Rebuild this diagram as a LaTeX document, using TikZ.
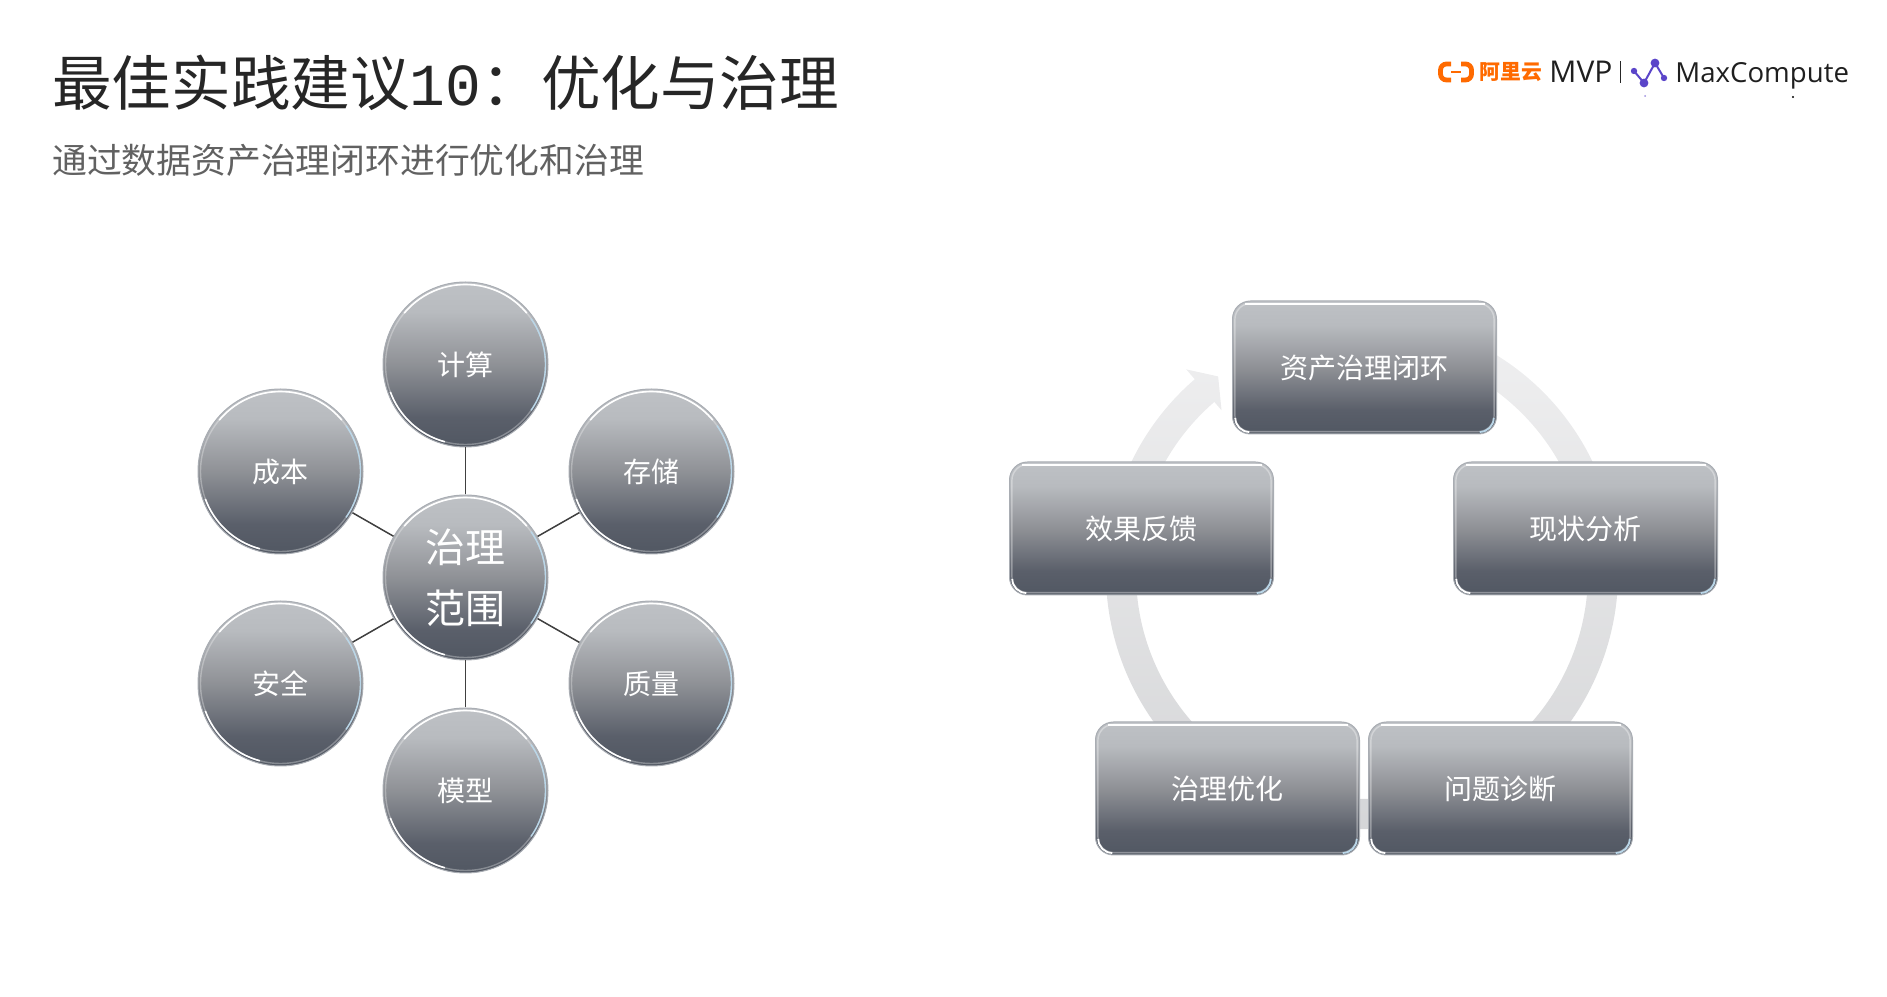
\documentclass[tikz,border=0pt]{standalone}
\usepackage{fontspec}
\setmainfont{Noto Sans CJK SC}
\newfontfamily\logofont{Open Sans}
\newfontfamily\digitfont{Liberation Mono}
\usetikzlibrary{arrows.meta}
\definecolor{rimgray}{HTML}{A9ADB3}
\definecolor{rimblue}{HTML}{B9D6E8}
\definecolor{ringtop}{HTML}{EFEFF0}
\definecolor{ringbot}{HTML}{D3D4D6}
\definecolor{aliorange}{HTML}{FF6A00}
\definecolor{mcpurple}{HTML}{5B45C9}
\definecolor{shadelow}{HTML}{535964}
\definecolor{shadelowb}{HTML}{5A5F6A}
\definecolor{shademid}{HTML}{8F9196}
\definecolor{shadehighb}{HTML}{B8BBBF}
\definecolor{shadehigh}{HTML}{BEC1C5}
\pgfdeclareverticalshading{bevelshade}{100bp}{
  color(0bp)=(shadelow); color(27bp)=(shadelow);
  color(34bp)=(shadelowb); color(50bp)=(shademid);
  color(66bp)=(shadehighb); color(75bp)=(shadehigh); color(100bp)=(shadehigh)}
\tikzset{
  discnode/.style = {circle, minimum size=82.5pt, inner sep=0pt, draw=rimgray, line width=.5pt,
                     shading=bevelshade, text=white, font=\fontsize{14}{16}\selectfont,
                     path picture={
                       \draw[white,opacity=.3,line width=.7pt] (path picture bounding box.center) circle (40pt);
                       \draw[white,line width=.8pt] (path picture bounding box.center)
                         ++(140:40pt) arc[start angle=140,end angle=40,radius=40pt];
                       \draw[white,line width=.8pt] (path picture bounding box.center)
                         ++(255:40pt) arc[start angle=255,end angle=200,radius=40pt];
                       \draw[rimblue,line width=.7pt] (path picture bounding box.center)
                         ++(35:40pt) arc[start angle=35,end angle=-35,radius=40pt];}},
  barnode/.style  = {rectangle, rounded corners=9pt, minimum width=132pt, minimum height=66.5pt,
                     inner sep=0pt, draw=rimgray, line width=.5pt,
                     shading=bevelshade, text=white, font=\fontsize{14}{16}\selectfont,
                     path picture={
                       \draw[white,opacity=.35,line width=.7pt,rounded corners=8pt]
                         ([xshift=1.2pt,yshift=-1.2pt]path picture bounding box.north west) rectangle
                         ([xshift=-1.2pt,yshift=1.2pt]path picture bounding box.south east);
                       \draw[white,line width=1pt,sharp corners]
                         ([xshift=6pt,yshift=-1.3pt]path picture bounding box.north west) --
                         ([xshift=-6pt,yshift=-1.3pt]path picture bounding box.north east);
                       \draw[white,line width=.9pt] ([xshift=1.4pt,yshift=8pt]path picture bounding box.south west)
                         arc[start angle=180,end angle=270,radius=7pt];
                       \draw[rimblue,line width=.9pt] ([xshift=-1.4pt,yshift=8pt]path picture bounding box.south east)
                         arc[start angle=0,end angle=-90,radius=7pt];}},
  spoke/.style    = {draw=black!75, line width=.75pt},
  logotext/.style = {anchor=base west, inner sep=0pt, font=\logofont\fontsize{13.8}{16}\selectfont, text=black!88}
}
\begin{document}
\begin{tikzpicture}[x=0.5pt,y=0.5pt]
  \useasboundingbox (0,0) rectangle (1887,997);
  % title block
  \node[anchor=west,inner sep=0pt,font=\fontsize{29.8}{32}\selectfont,text=black!85] (title) at (52,914.5)
    {最佳实践建议{\digitfont 10}^^^^ff1a优化与治理};
  \node[anchor=west,inner sep=0pt,font=\fontsize{17.4}{20}\selectfont,text=black!62] (subtitle) at (52,837)
    {通过数据资产治理闭环进行优化和治理};
  % logo strip
  \draw[aliorange,line width=2.4pt,rounded corners=3pt] (1451,933) -- (1440.5,933) -- (1440.5,917) -- (1451,917);
  \draw[aliorange,line width=2.4pt,rounded corners=3pt] (1461,933) -- (1471.5,933) -- (1471.5,917) -- (1461,917);
  \draw[aliorange,line width=.9pt] (1451,925) -- (1461,925);
  \node[anchor=west,inner sep=0pt,font=\fontsize{10.4}{12}\selectfont\bfseries,text=aliorange] (aliname) at (1479,925) {阿里云};
  \node[logotext,font=\logofont\fontsize{15}{16}\selectfont] (mvp) at (1549,914) {MVP};
  \draw[black!85,line width=.5pt] (1620,914) -- (1620,936);
  \coordinate (p1) at (1634,926);
  \coordinate (p2) at (1644,914);
  \coordinate (p3) at (1655,934);
  \coordinate (p4) at (1664,919);
  \draw[mcpurple,line width=1pt] (p1) -- (p2) -- (p3) -- (p4);
  \foreach \p/\r in {p1/1.6pt,p2/2.2pt,p3/2.2pt,p4/1.6pt} { \fill[mcpurple] (\p) circle (\r); }
  \node[logotext] (mcname) at (1675,914) {MaxCompute};
  \fill[mcpurple!60] (1645,901) circle (.5pt);
  \fill[black] (1793,900) circle (.6pt);
  % scope wheel
  \node[discnode,font=\fontsize{20}{30.5}\selectfont,align=center] (core) at (465.5,419.5) {治理\\范围};
  \node[discnode] (calc)  at (465.5,632.5) {计算};
  \node[discnode] (store) at (651.5,525.5) {存储};
  \node[discnode] (qual)  at (651.5,313.5) {质量};
  \node[discnode] (model) at (465.5,206.5) {模型};
  \node[discnode] (safe)  at (280.5,313.5) {安全};
  \node[discnode] (cost)  at (280.5,525.5) {成本};
  \foreach \n in {calc,store,qual,model,safe,cost} { \draw[spoke] (core) -- (\n); }
  % loop ring, one closed shape with its head
  \shade[top color=ringtop,bottom color=ringbot,shift={(1362,424)}]
    (70:256) arc[start angle=70,end angle=-229.2,radius=256]
    -- (130.8:269) -- (126.2:243.6) -- (130.8:215)
    -- (130.8:226) arc[start angle=-229.2,end angle=70,radius=226] -- cycle;
  \node[barnode] (asset)  at (1364.5,629.5) {资产治理闭环};
  \node[barnode] (status) at (1585.5,468.5) {现状分析};
  \node[barnode] (diag)   at (1500.5,208.5) {问题诊断};
  \node[barnode] (tune)   at (1227.5,208.5) {治理优化};
  \node[barnode] (effect) at (1141.5,468.5) {效果反馈};
\end{tikzpicture}
\end{document}
